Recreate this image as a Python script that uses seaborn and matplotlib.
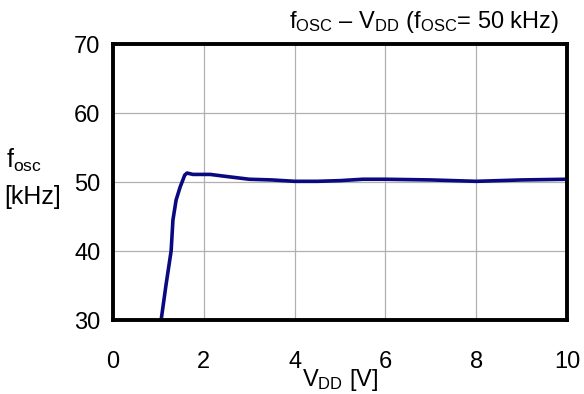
import matplotlib
matplotlib.use("Agg")
import matplotlib.pyplot as plt
import seaborn as sns
import pandas as pd

# f_osc vs V_DD curve
vdd = [1.06, 1.17, 1.28, 1.32, 1.39, 1.48, 1.58, 1.63, 1.76, 2.14, 2.5, 3.0, 3.5, 4.0, 4.5, 5.0, 5.5, 6.0, 7.0, 8.0, 9.0, 10.0]
fosc = [30.0, 35.2, 40.0, 44.5, 47.4, 49.3, 51.0, 51.3, 51.1, 51.1, 50.8, 50.4, 50.3, 50.1, 50.1, 50.2, 50.4, 50.4, 50.3, 50.1, 50.3, 50.4]
xticks = [0, 2, 4, 6, 8, 10]
yticks = [30, 40, 50, 60, 70]

sns.set_theme(style="whitegrid")
plt.rcParams['font.family'] = ['Liberation Sans', 'DejaVu Sans']
plt.rcParams['mathtext.fontset'] = 'custom'
plt.rcParams['mathtext.rm'] = 'Liberation Sans'
plt.rcParams['mathtext.it'] = 'Liberation Sans'
plt.rcParams['text.color'] = 'black'
plt.rcParams['axes.labelcolor'] = 'black'

df = pd.DataFrame({"vdd": vdd, "fosc": fosc})

fig = plt.figure(figsize=(5.84, 3.94), dpi=100)
ax = fig.add_axes([0.1935, 0.1878, 0.7775, 0.7005])
sns.lineplot(data=df, x="vdd", y="fosc", ax=ax, color="#0a0a80", linewidth=2.6, sort=False)

ax.set_xlim(0, 10)
ax.set_ylim(30, 70)
ax.set_xticks(xticks)
ax.set_yticks(yticks)
ax.tick_params(axis="both", labelsize=17, length=0, colors="black")
ax.tick_params(axis="x", pad=22)
ax.tick_params(axis="y", pad=9)
ax.grid(True, color="#b0b0b0", linewidth=0.9)
for s in ax.spines.values():
    s.set_color("black")
    s.set_linewidth(2.8)

ax.set_xlabel(r"V$_{\mathrm{DD}}$ [V]", fontsize=17, labelpad=-4)
ax.set_ylabel("")
fig.text(0.011, 0.593, r"f$_{\mathrm{osc}}$", fontsize=18, ha="left", va="center")
fig.text(0.007, 0.5, "[kHz]", fontsize=18, ha="left", va="center")
fig.text(0.958, 0.945, r"f$_{\mathrm{OSC}}$ – V$_{\mathrm{DD}}$ (f$_{\mathrm{OSC}}$= 50 kHz)",
         fontsize=17, ha="right", va="center")

fig.savefig("out.png", dpi=100)
